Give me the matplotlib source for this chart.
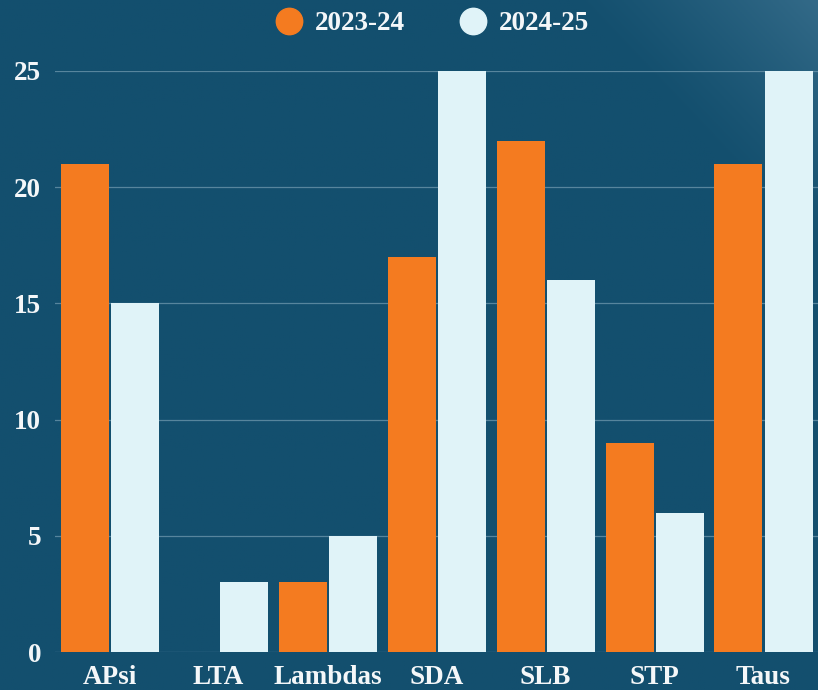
import numpy as np
import matplotlib.pyplot as plt
from matplotlib.lines import Line2D

# Style
plt.rcParams.update({
    "font.family": ["Liberation Serif", "DejaVu Serif"],
    "font.weight": "bold",
    "font.size": 19.5,
})

# Data
teams = ["APsi", "LTA", "Lambdas", "SDA", "SLB", "STP", "Taus"]
season_1 = [21, 0, 3, 17, 22, 9, 21]
season_2 = [15, 3, 5, 25, 16, 6, 25]
series_labels = ["2023-24", "2024-25"]
yticks = [0, 5, 10, 15, 20, 25]

bg = "#134F6E"
orange = "#F47B20"
light = "#E0F3F8"
text_col = "#F4F7F9"

fig = plt.figure(figsize=(8.18, 6.90), dpi=100)
fig.patch.set_facecolor(bg)

# Background: faint lighter glow only in the top right corner
bg_ax = fig.add_axes([0, 0, 1, 1], zorder=-10)
gx, gy = np.meshgrid(np.linspace(0, 1, 400), np.linspace(1, 0, 340))
d = np.clip((gx * 1.0 + gy * 0.8) - 1.5, 0, None) / 0.3
base = np.array([0x13, 0x4F, 0x6E]) / 255
top = np.array([0x33, 0x6A, 0x88]) / 255
img = base[None, None, :] + (top - base)[None, None, :] * np.clip(d, 0, 1)[:, :, None] ** 1.2
bg_ax.imshow(img, aspect="auto", extent=[0, 1, 0, 1])
bg_ax.axis("off")

ax = fig.add_axes([55 / 818, 38 / 690, 763 / 818, 581 / 690])
ax.patch.set_alpha(0)

x = np.arange(len(teams))
w = 48 / 109
off = 25 / 109
ax.bar(x - off, season_1, width=w, color=orange, linewidth=0, zorder=3, clip_on=False)
ax.bar(x + off, season_2, width=w, color=light, linewidth=0, zorder=3, clip_on=False)

ax.set_xlim(-0.5, len(teams) - 0.5)
ax.set_ylim(0, 25)
ax.set_yticks(yticks)
ax.set_xticks(x)
ax.set_xticklabels(teams)
ax.tick_params(axis="both", length=0, colors=text_col, labelsize=19.5)
ax.tick_params(axis="x", pad=9)
ax.tick_params(axis="y", pad=10)
for s in ax.spines.values():
    s.set_visible(False)
ax.yaxis.grid(True, color="#6F98AE", linewidth=0.9, alpha=0.75, zorder=0)
ax.set_axisbelow(True)

handles = [
    Line2D([], [], marker="o", linestyle="", markersize=19, color=orange),
    Line2D([], [], marker="o", linestyle="", markersize=19, color=light),
]
leg = fig.legend(handles, series_labels, loc="upper center", bbox_to_anchor=(0.527, 1.019),
                 ncol=2, frameon=False, handletextpad=0.35, columnspacing=1.9,
                 handlelength=1.2, fontsize=19.5)
for t in leg.get_texts():
    t.set_color(text_col)

fig.savefig("out.png", dpi=100, facecolor=bg)
